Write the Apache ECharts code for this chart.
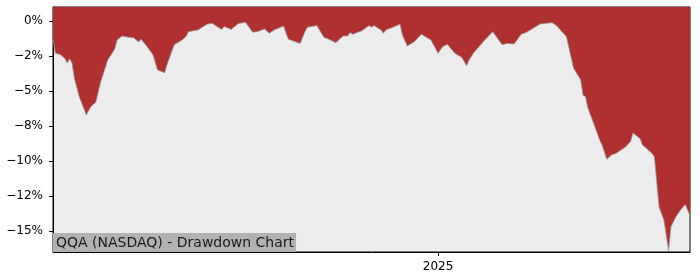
<!DOCTYPE html>
<html><head><meta charset="utf-8">
<script src="https://cdn.jsdelivr.net/npm/echarts@6/dist/echarts.min.js"></script>
<style>html,body{margin:0;padding:0;background:#fff}#c{width:700px;height:280px}</style>
</head><body><div id="c"></div>
<script>
const dates = [
"2024-07-23","2024-07-24","2024-07-26","2024-07-28","2024-07-29","2024-07-30","2024-07-31","2024-08-01","2024-08-03","2024-08-06",
"2024-08-08","2024-08-10","2024-08-12","2024-08-15","2024-08-18","2024-08-19","2024-08-21","2024-08-24","2024-08-26","2024-08-28",
"2024-08-29","2024-08-31","2024-09-03","2024-09-05","2024-09-08","2024-09-09","2024-09-12","2024-09-15","2024-09-17","2024-09-18",
"2024-09-22","2024-09-26","2024-09-28","2024-09-30","2024-10-02","2024-10-03","2024-10-06","2024-10-09","2024-10-12","2024-10-15",
"2024-10-17","2024-10-20","2024-10-22","2024-10-24","2024-10-28","2024-10-30","2024-11-04","2024-11-06","2024-11-07","2024-11-11",
"2024-11-14","2024-11-16","2024-11-19","2024-11-22","2024-11-24","2024-11-25","2024-11-26","2024-11-30","2024-12-03","2024-12-04",
"2024-12-05","2024-12-08","2024-12-09","2024-12-10","2024-12-13","2024-12-16","2024-12-17","2024-12-19","2024-12-22","2024-12-25",
"2024-12-29","2025-01-01","2025-01-03","2025-01-05","2025-01-08","2025-01-11","2025-01-13","2025-01-14","2025-01-16","2025-01-20",
"2025-01-24","2025-01-26","2025-01-28","2025-01-30","2025-02-02","2025-02-05","2025-02-07","2025-02-13","2025-02-18","2025-02-20",
"2025-02-24","2025-02-27","2025-03-02","2025-03-03","2025-03-04","2025-03-05","2025-03-07","2025-03-10","2025-03-11","2025-03-13",
"2025-03-15","2025-03-17","2025-03-18","2025-03-21","2025-03-23","2025-03-24","2025-03-27","2025-03-28","2025-04-01","2025-04-02",
"2025-04-04","2025-04-06","2025-04-08","2025-04-09","2025-04-11","2025-04-13","2025-04-15","2025-04-17"
];
const drawdown = [
-1.3,-2.3,-2.4,-2.67,-3.0,-2.7,-3.0,-4.1,-5.4,-6.7,
-6.1,-5.8,-4.4,-2.8,-2.0,-1.36,-1.07,-1.17,-1.2,-1.5,
-1.3,-1.7,-2.4,-3.5,-3.7,-3.1,-1.7,-1.4,-1.1,-0.76,
-0.64,-0.21,-0.17,-0.4,-0.6,-0.4,-0.6,-0.17,-0.1,-0.8,
-0.76,-0.57,-0.88,-0.64,-0.36,-1.3,-1.6,-0.76,-0.45,-0.33,
-1.17,-1.3,-1.55,-1.07,-1.07,-0.83,-0.95,-0.69,-0.33,-0.45,
-0.33,-0.64,-0.88,-0.64,-0.45,-0.24,-1.0,-1.79,-1.48,-0.95,
-1.36,-2.3,-1.83,-1.67,-2.3,-2.6,-3.2,-2.8,-2.26,-1.48,
-0.76,-1.24,-1.7,-1.6,-1.64,-0.95,-0.83,-0.21,-0.12,-0.36,
-1.12,-3.38,-4.2,-5.3,-5.4,-6.2,-7.1,-8.5,-8.86,-9.88,
-9.57,-9.45,-9.33,-8.98,-8.6,-8.0,-8.4,-8.86,-9.45,-9.7,
-13.3,-14.2,-16.4,-14.7,-14.0,-13.5,-13.1,-13.9
];
const yTickValues = [0,-2.5,-5,-7.5,-10,-12.5,-15];
const yTickLabels = ['0%','\u22122%','\u22125%','\u22128%','\u221210%','\u221212%','\u221215%'];
const xTickDates = ['2025-01-01'];
const xTickLabels = ['2025'];
const chartTitle = 'QQA (NASDAQ) - Drawdown Chart';
const xStart = '2024-07-23', xEnd = '2025-04-17';

const ts = s => Date.parse(s);
const xTickTs = xTickDates.map(ts);
const seriesData = dates.map((d,i)=>[ts(d), drawdown[i]]);
const font = 'DejaVu Sans';
const chart = echarts.init(document.getElementById('c'), null, {renderer:'canvas'});
chart.setOption({
  animation:false,
  backgroundColor:'#ffffff',
  title:{text:chartTitle,left:53,top:233,padding:[2,2,1,3],backgroundColor:'#b2b2b2',
    textStyle:{fontFamily:font,fontSize:14,fontWeight:'normal',color:'#1a1a1a',lineHeight:16}},
  grid:{left:53,right:10,top:7,bottom:28,show:true,backgroundColor:'#ececec',borderColor:'#000',borderWidth:1},
  xAxis:{type:'value',min:ts(xStart),max:ts(xEnd),
    axisLine:{show:true,onZero:false,lineStyle:{color:'#000',width:1}},
    axisTick:{show:true,length:4,lineStyle:{color:'#000'},customValues:xTickTs},
    axisLabel:{show:true,margin:9,fontFamily:font,fontSize:12,color:'#000',customValues:xTickTs,
      formatter:(v)=>{const i=xTickTs.indexOf(v);return i>=0?xTickLabels[i]:'';}},
    splitLine:{show:false}},
  yAxis:{type:'value',min:-16.5,max:1,
    axisLine:{show:true,lineStyle:{color:'#000',width:1}},
    axisTick:{show:true,length:4,lineStyle:{color:'#000'},customValues:yTickValues},
    axisLabel:{show:true,margin:10,fontFamily:font,fontSize:12,color:'#000',customValues:yTickValues,
      formatter:(v)=>{const i=yTickValues.indexOf(v);return i>=0?yTickLabels[i]:'';}},
    splitLine:{show:false}},
  series:[{type:'line',data:seriesData,symbol:'none',
    lineStyle:{color:'#9a9a9a',width:0.8},
    areaStyle:{color:'#b03030',opacity:1,origin:'end'},z:2}]
});
</script></body></html>
